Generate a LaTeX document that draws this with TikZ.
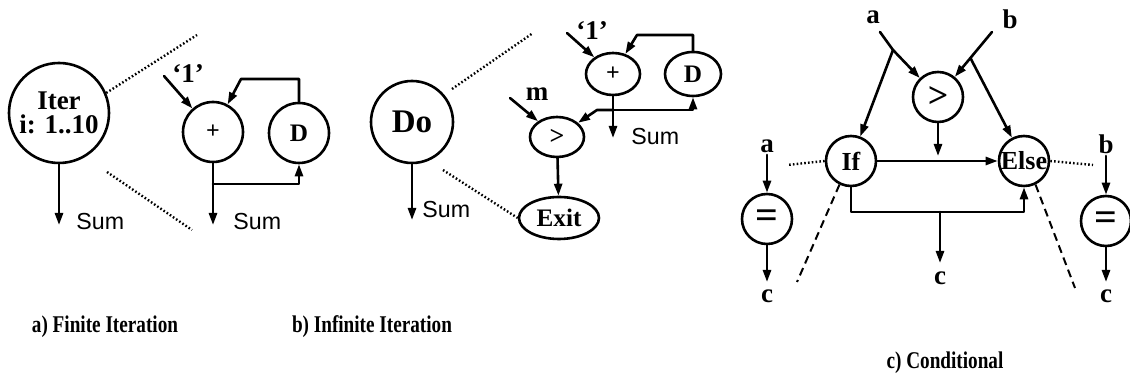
\documentclass[tikz,border=0pt]{standalone}
\usepackage{fontspec}
\setmainfont{Liberation Serif}
\setsansfont{Liberation Sans}
\newfontfamily\capfont[FakeStretch=0.8]{Liberation Serif}
\usetikzlibrary{arrows.meta, shapes.geometric, calc}

\begin{document}
\begin{tikzpicture}[x=0.5pt, y=-0.5pt, line cap=round, line join=round,
  op/.style={circle, draw, line width=1.3pt, inner sep=0pt},
  oval/.style={ellipse, draw, line width=1.3pt, inner sep=0pt},
  flow/.style={line width=1.3pt, -{Triangle[length=6pt,width=4pt]}},
  wire/.style={line width=1.3pt},
  zoomdots/.style={line width=1.2pt, line cap=butt, dash pattern=on 0.8pt off 1.1pt},
  zoomdash/.style={line width=1pt, line cap=butt, dash pattern=on 4pt off 2.5pt},
  lbl/.style={font=\bfseries\fontsize{13.5}{15}\selectfont, inner sep=1pt},
  sumlbl/.style={font=\sffamily\fontsize{11.6}{14}\selectfont, inner sep=0pt, anchor=west},
  caption/.style={font=\capfont\bfseries\fontsize{12}{14}\selectfont}]

\useasboundingbox (0,0) rectangle (1130,378);

% --- a) Iterazione finita ---
\node[op, minimum size=50pt, align=center, font=\bfseries\fontsize{13.5}{12}\selectfont]
  (iter) at (59,113) {Iter\\i: 1..10};
\coordinate (iterout) at (59,225);
\draw[flow] (iter) -- (iterout);
\node[sumlbl] (itersum) at (76,222) {Sum};

\node[op, minimum size=30pt, font=\bfseries\fontsize{12}{14}\selectfont] (plusA) at (213,132) {+};
\node[op, minimum size=30pt, font=\bfseries\fontsize{12.6}{14}\selectfont] (delayA) at (299,133) {D};

\coordinate (oneA) at (164,76);
\node[lbl] (oneAlbl) at (188,74) {`1'};
\draw[flow] (oneA) -- (plusA);

\coordinate (fbA) at (241,79);
\draw[flow] (delayA.north) |- (fbA) -- (plusA);

\coordinate (sumAout) at (213,225);
\draw[flow] (plusA) -- (sumAout);
\node[sumlbl] (sumA) at (233,222) {Sum};
\coordinate (brA) at (213,184);
\draw[flow] (brA) -| (delayA.south);

\coordinate (zA1) at (197,35);
\coordinate (zA2) at (107,172);
\coordinate (zA3) at (192,230);
\draw[zoomdots] (iter.23) -- (zA1);
\draw[zoomdots] (zA2) -- (zA3);

\node[caption] (capA) at (105,327) {a) Finite Iteration};

% --- b) Iterazione infinita ---
\node[op, minimum size=41pt, font=\bfseries\fontsize{16.5}{18}\selectfont] (doB) at (412,122) {Do};
\coordinate (doBout) at (412,220);
\draw[flow] (doB) -- (doBout);
\node[sumlbl] (doBsum) at (422,210) {Sum};

\node[oval, minimum width=27pt, minimum height=21pt, font=\bfseries\fontsize{12}{14}\selectfont] (plusB) at (613,74) {+};
\node[oval, minimum width=28pt, minimum height=22pt, font=\bfseries\fontsize{12.6}{14}\selectfont] (delayB) at (693,74) {D};
\node[oval, minimum width=27pt, minimum height=20pt, font=\bfseries\fontsize{13}{14}\selectfont] (gtB) at (557,137) {>};
\node[oval, minimum width=40pt, minimum height=21pt, font=\bfseries\fontsize{12.6}{14}\selectfont] (exitB) at (559,218) {Exit};

\coordinate (oneB) at (567,33);
\node[lbl] (oneBlbl) at (592,31) {`1'};
\draw[flow] (oneB) -- (plusB);

\coordinate (fbB) at (637,35);
\draw[flow] (delayB.north) |- (fbB) -- (plusB);

\coordinate (sumBout) at (613,138);
\draw[flow] (plusB) -- (sumBout);
\node[sumlbl] (sumB) at (631,137) {Sum};
\coordinate (brB) at (613,110);
\draw[flow] (brB) -| (delayB.south);
\coordinate (kinkB) at (597,110);
\draw[flow] (brB) -- (kinkB) -- (gtB);

\coordinate (mB) at (510,98);
\node[lbl] (mBlbl) at (537,94) {m};
\draw[flow] (mB) -- (gtB);
\draw[flow] (gtB) -- (exitB);

\coordinate (zB1) at (452,89);
\coordinate (zB2) at (533,33);
\coordinate (zB3) at (443,170);
\draw[zoomdots] (zB1) -- (zB2);
\draw[zoomdots] (zB3) -- (exitB.west);

\node[caption] (capB) at (372,327) {b) Infinite Iteration};

% --- c) Condizionale ---
\node[op, minimum size=25pt, font=\bfseries\fontsize{18}{20}\selectfont] (gtC) at (938,97) {>};
\node[op, minimum size=25pt, font=\bfseries\fontsize{13}{15}\selectfont] (ifC) at (851,161) {If};
\node[op, minimum size=25pt, font=\bfseries\fontsize{13}{15}\selectfont] (elseC) at (1024,161) {Else};
\node[op, minimum size=25pt, font=\bfseries\fontsize{20}{22}\selectfont] (eqL) at (767,219) {=};
\node[op, minimum size=25pt, font=\bfseries\fontsize{20}{22}\selectfont] (eqR) at (1106,221) {=};

\node[lbl] (aTop) at (873,17) {a};
\node[lbl] (bTop) at (1010,19) {b};
\coordinate (aIn) at (880,32);
\coordinate (aFork) at (893,50);
\draw[wire] (aIn) -- (aFork);
\draw[flow] (aFork) -- (gtC);
\draw[flow] (aFork) -- (ifC);
\coordinate (bIn) at (992,32);
\draw[flow] (bIn) -- (gtC);
\coordinate (bFork) at ($(bIn)!0.4!(gtC)$);
\draw[flow] (bFork) -- (elseC);

\coordinate (condJoin) at (938,156);
\draw[flow] (gtC) -- (condJoin);
\draw[flow] (ifC) -- (elseC);

\coordinate (joinC) at (940,212);
\draw[flow] (ifC.south) |- (joinC) -| (elseC.south);
\coordinate (cOut) at (940,263);
\draw[flow] (joinC) -- (cOut);
\node[lbl] (cMid) at (940,278) {c};

\node[lbl] (aLeft) at (767,146) {a};
\draw[flow] (aLeft) -- (eqL);
\coordinate (eqLout) at (767,282);
\draw[flow] (eqL) -- (eqLout);
\node[lbl] (cLeft) at (767,296) {c};

\node[lbl] (bRight) at (1106,144) {b};
\draw[flow] (bRight) -- (eqR);
\coordinate (eqRout) at (1106,282);
\draw[flow] (eqR) -- (eqRout);
\node[lbl] (cRight) at (1106,296) {c};

\coordinate (zC1) at (787,165);
\coordinate (zC2) at (1093,165);
\coordinate (zC3) at (797,282);
\coordinate (zC4) at (1075,288);
\draw[zoomdots] (ifC.west) -- (zC1);
\draw[zoomdots] (elseC.east) -- (zC2);
\draw[zoomdash] (ifC.-116) -- (zC3);
\draw[zoomdash] (elseC.-64) -- (zC4);

\node[caption] (capC) at (945,363) {c) Conditional};
\end{tikzpicture}
\end{document}
